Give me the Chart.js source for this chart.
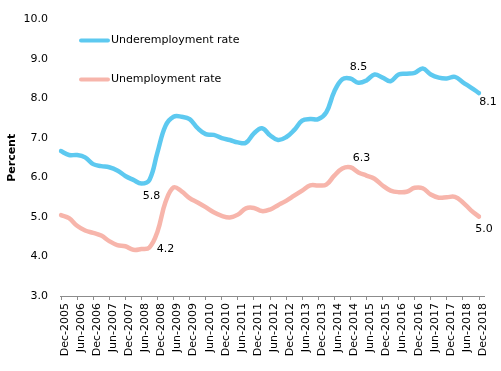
<!DOCTYPE html>
<html>
<head>
<meta charset="utf-8">
<script src="https://cdn.jsdelivr.net/npm/chart.js@4.4.1/dist/chart.umd.min.js"></script>
<style>
  html, body { margin: 0; padding: 0; background: #fff; }
  #wrap { width: 501px; height: 371px; }
</style>
</head>
<body>
<div id="wrap"><canvas id="chart" width="501" height="371"></canvas></div>
<script>
// quarterly points, Dec-2005 to Dec-2018
const quarters = [
  'Dec-2005','Mar-2006','Jun-2006','Sep-2006','Dec-2006','Mar-2007','Jun-2007','Sep-2007',
  'Dec-2007','Mar-2008','Jun-2008','Sep-2008','Dec-2008','Mar-2009','Jun-2009','Sep-2009',
  'Dec-2009','Mar-2010','Jun-2010','Sep-2010','Dec-2010','Mar-2011','Jun-2011','Sep-2011',
  'Dec-2011','Mar-2012','Jun-2012','Sep-2012','Dec-2012','Mar-2013','Jun-2013','Sep-2013',
  'Dec-2013','Mar-2014','Jun-2014','Sep-2014','Dec-2014','Mar-2015','Jun-2015','Sep-2015',
  'Dec-2015','Mar-2016','Jun-2016','Sep-2016','Dec-2016','Mar-2017','Jun-2017','Sep-2017',
  'Dec-2017','Mar-2018','Jun-2018','Sep-2018','Dec-2018'
];

const underemployment = [
  6.67, 6.57, 6.57, 6.51, 6.34, 6.29, 6.26, 6.18, 6.04, 5.94, 5.85, 5.94, 6.64, 7.31,
  7.54, 7.54, 7.48, 7.25, 7.10, 7.08, 7.00, 6.95, 6.89, 6.88, 7.12, 7.25, 7.07, 6.95,
  7.02, 7.20, 7.44, 7.48, 7.48, 7.65, 8.18, 8.49, 8.51, 8.40, 8.46, 8.61, 8.53, 8.44,
  8.61, 8.63, 8.65, 8.76, 8.61, 8.53, 8.51, 8.55, 8.41, 8.28, 8.14
];

const unemployment = [
  5.05, 4.97, 4.78, 4.66, 4.60, 4.53, 4.39, 4.29, 4.26, 4.17, 4.19, 4.23, 4.63, 5.38,
  5.75, 5.65, 5.48, 5.37, 5.25, 5.12, 5.03, 4.99, 5.06, 5.22, 5.23, 5.15, 5.19, 5.30,
  5.41, 5.54, 5.67, 5.80, 5.80, 5.82, 6.05, 6.23, 6.26, 6.13, 6.05, 5.97, 5.80, 5.67,
  5.63, 5.64, 5.74, 5.73, 5.57, 5.49, 5.50, 5.51, 5.37, 5.17, 5.01
];

const seriesNames = ['Underemployment rate', 'Unemployment rate'];
const yTicks = [3, 4, 5, 6, 7, 8, 9, 10];

// labelled points: dataset, point index, text shown
const notes = [
  { ds: 0, i: 10, text: '5.8' },
  { ds: 1, i: 11, text: '4.2' },
  { ds: 0, i: 36, text: '8.5' },
  { ds: 1, i: 36, text: '6.3' },
  { ds: 0, i: 52, text: '8.1' },
  { ds: 1, i: 52, text: '5.0' }
];
// where each note sits relative to its point (px)
const noteOffsets = [[10, 13], [16, 2], [8, -11], [11, -9], [9, 9], [5, 13]];

const FONT = 'DejaVu Sans';
const BLUE = '#5dc9f0';
const PINK = '#f7b5ab';

// draws the legend inside the plot and the point notes
const extras = {
  id: 'extras',
  afterDatasetsDraw(chart) {
    const c = chart.ctx;
    const area = chart.chartArea;
    c.save();
    c.font = '11px "' + FONT + '"';
    c.textBaseline = 'middle';
    c.fillStyle = '#000';

    // legend
    chart.data.datasets.forEach((ds, k) => {
      const y = area.top + 21 + k * 39;
      c.strokeStyle = ds.borderColor;
      c.lineWidth = 4;
      c.lineCap = 'round';
      c.beginPath();
      c.moveTo(area.left + 20, y);
      c.lineTo(area.left + 47, y);
      c.stroke();
      c.textAlign = 'left';
      c.fillText(ds.label, area.left + 50, y);
    });

    // notes
    c.textAlign = 'center';
    notes.forEach((n, k) => {
      const pt = chart.getDatasetMeta(n.ds).data[n.i];
      c.fillText(n.text, pt.x + noteOffsets[k][0], pt.y + noteOffsets[k][1]);
    });

    // x axis line runs a little past the last point
    const xs = chart.scales.x;
    c.strokeStyle = '#8c8c8c';
    c.lineWidth = 1;
    c.lineCap = 'butt';
    c.beginPath();
    c.moveTo(area.left - 1, Math.round(xs.top) + 0.5);
    c.lineTo(area.right + 6, Math.round(xs.top) + 0.5);
    c.stroke();
    c.restore();
  }
};

new Chart(document.getElementById('chart'), {
  type: 'line',
  data: {
    labels: quarters,
    datasets: [
      {
        label: seriesNames[0],
        data: underemployment,
        borderColor: BLUE,
        borderWidth: 4.5,
        tension: 0.4,
        pointRadius: 0,
        borderCapStyle: 'round',
        borderJoinStyle: 'round'
      },
      {
        label: seriesNames[1],
        data: unemployment,
        borderColor: PINK,
        borderWidth: 4.5,
        tension: 0.4,
        pointRadius: 0,
        borderCapStyle: 'round',
        borderJoinStyle: 'round'
      }
    ]
  },
  options: {
    responsive: false,
    animation: false,
    layout: { padding: { top: 18, right: 22, left: 0, bottom: 0 } },
    plugins: {
      legend: { display: false },
      tooltip: { enabled: false }
    },
    scales: {
      x: {
        type: 'category',
        offset: false,
        border: { display: false },
        grid: {
          display: true,
          drawOnChartArea: false,
          drawTicks: true,
          tickLength: 4,
          color: '#8c8c8c'
        },
        ticks: {
          autoSkip: false,
          minRotation: 90,
          maxRotation: 90,
          labelOffset: 4,
          padding: 3,
          color: '#000',
          font: { family: FONT, size: 11 },
          callback: function (value) {
            const lab = this.getLabelForValue(value);
            return (lab.startsWith('Dec') || lab.startsWith('Jun')) ? lab : null;
          }
        },
        afterFit: (scale) => { scale.height = 75; }
      },
      y: {
        min: 3,
        max: 10,
        border: { display: false },
        grid: { display: false, drawTicks: false },
        afterBuildTicks: (scale) => { scale.ticks = yTicks.map(v => ({ value: v })); },
        ticks: {
          padding: 13,
          color: '#000',
          font: { family: FONT, size: 11 },
          callback: (v) => Number(v).toFixed(1)
        },
        title: {
          display: true,
          text: 'Percent',
          color: '#000',
          font: { family: FONT, size: 11, weight: 'bold' },
          padding: { top: 6, bottom: 0 }
        },
        afterFit: (scale) => { scale.width = 61; }
      }
    }
  },
  plugins: [extras]
});
</script>
</body>
</html>
